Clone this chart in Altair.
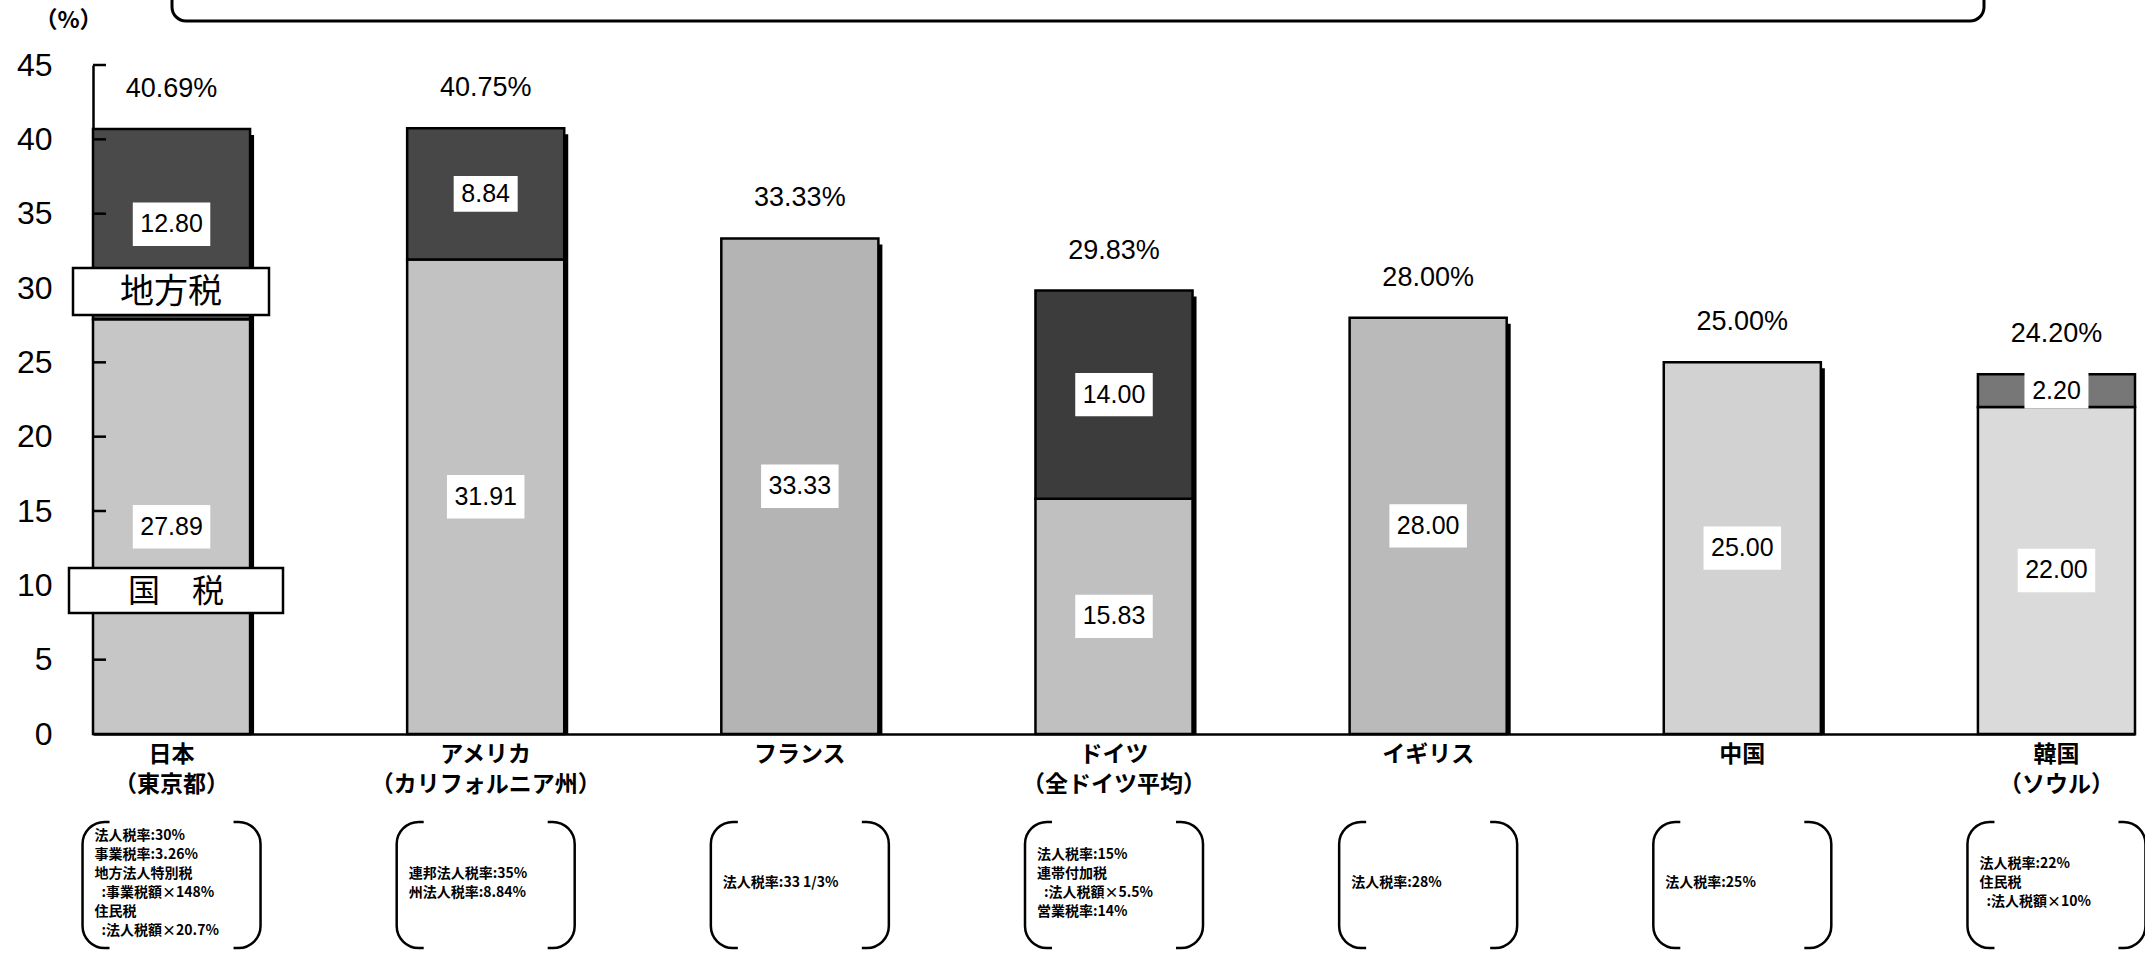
import altair as alt
import pandas as pd

# Effective corporate tax rates (%) split into national and local portions
countries = ["日本", "アメリカ", "フランス", "ドイツ", "イギリス", "中国", "韓国"]
regions = ["（東京都）", "（カリフォルニア州）", "", "（全ドイツ平均）", "", "", "（ソウル）"]
national_tax = [27.89, 31.91, 33.33, 15.83, 28.00, 25.00, 22.00]
local_tax = [12.80, 8.84, 0.0, 14.00, 0.0, 0.0, 2.20]
total_rate = [40.69, 40.75, 33.33, 29.83, 28.00, 25.00, 24.20]
# zero-width char keeps the small indent of continuation lines from being trimmed
IND = "\u200b\u2002"
notes = [
    f"法人税率:30%\n事業税率:3.26%\n地方法人特別税\n{IND}:事業税額×148%\n住民税\n{IND}:法人税額×20.7%",
    "連邦法人税率:35%\n州法人税率:8.84%",
    "法人税率:33 1/3%",
    f"法人税率:15%\n連帯付加税\n{IND}:法人税額×5.5%\n営業税率:14%",
    "法人税率:28%",
    "法人税率:25%",
    f"法人税率:22%\n住民税\n{IND}:法人税額×10%",
]
y_ticks = [0, 5, 10, 15, 20, 25, 30, 35, 40, 45]

# grey tone of each bar segment (national / local)
national_grey = ["#c6c6c6", "#c2c2c2", "#b4b4b4", "#c0c0c0", "#bababa", "#d2d2d2", "#dadada"]
local_grey = ["#4a4a4a", "#474747", "#4a4a4a", "#3c3c3c", "#4a4a4a", "#4a4a4a", "#777777"]

NUM_FONT = "Liberation Sans"
JP_FONT = "Noto Sans CJK JP"

cats = [c + ("\n" + r if r else "") for c, r in zip(countries, regions)]

rows = []
for cat, name, nat, loc in zip(cats, countries, national_tax, local_tax):
    rows.append({"cat": cat, "key": name + "|国税", "lo": 0.0, "hi": nat,
                 "label": f"{nat:.2f}"})
    if loc > 0:
        rows.append({"cat": cat, "key": name + "|地方税", "lo": nat, "hi": nat + loc,
                     "label": f"{loc:.2f}"})
seg = pd.DataFrame(rows)
seg["mid"] = (seg["lo"] + seg["hi"]) / 2

shade_domain = [n + "|国税" for n in countries] + [n + "|地方税" for n in countries]
shade_range = national_grey + local_grey

bars_df = pd.DataFrame({"cat": cats, "total": total_rate, "note": notes,
                        "total_label": [f"{t:.2f}%" for t in total_rate]})
ticks_df = pd.DataFrame({"t": y_ticks[1:]})

x_enc = alt.X(
    "cat:N", sort=cats,
    scale=alt.Scale(paddingInner=0.5, paddingOuter=0),
    axis=alt.Axis(
        title=None, labelExpr="split(datum.label, '\\n')", labelFont=JP_FONT,
        labelFontSize=23, labelFontWeight="bold", labelColor="black",
        labelLineHeight=30, labelPadding=9,
        labelAngle=0, labelLimit=400, ticks=False, tickSize=0,
        domainColor="black", domainWidth=2.5,
    ),
)
y_scale = alt.Scale(domain=[0, 45], nice=False)
y_axis = alt.Axis(
    values=y_ticks, ticks=False, tickSize=0, labelPadding=41, labelFont=NUM_FONT,
    labelFontSize=32, labelColor="black", domainColor="black", domainWidth=2.5,
    grid=False, title="（%）", titleAngle=0, titleX=-25, titleY=-45,
    titleAlign="center", titleBaseline="middle", titleFont=JP_FONT,
    titleFontSize=23, titleFontWeight="bold", titleColor="black",
)

# drop shadow on the right of each bar
shadow = alt.Chart(bars_df).mark_bar(color="black", xOffset=4, yOffset=6, clip=True).encode(
    x=x_enc, y=alt.Y("total:Q", scale=y_scale, axis=y_axis), y2=alt.datum(0)
)

segments = alt.Chart(seg).mark_bar(stroke="black", strokeWidth=2.5).encode(
    x=x_enc,
    y=alt.Y("hi:Q", scale=y_scale),
    y2="lo:Q",
    color=alt.Color("key:N", scale=alt.Scale(domain=shade_domain, range=shade_range),
                    legend=None),
)

# inward tick marks on the value axis
inner_ticks = alt.Chart(ticks_df).mark_rule(color="black", strokeWidth=2.5).encode(
    y=alt.Y("t:Q", scale=y_scale), x=alt.value(0), x2=alt.value(13)
)

totals = alt.Chart(bars_df).mark_text(
    dy=-40, font=NUM_FONT, fontSize=27, color="black"
).encode(x=x_enc, y=alt.Y("total:Q", scale=y_scale), text="total_label:N")

label_boxes = alt.Chart(seg).transform_calculate(
    bw="pow(13.5 * length(datum.label) + 10, 2)"
).mark_point(
    shape="M-1,-0.56H1V0.56H-1Z", filled=True, color="white", opacity=1
).encode(x=x_enc, y=alt.Y("mid:Q", scale=y_scale), size=alt.Size("bw:Q", scale=None))

label_text = alt.Chart(seg).mark_text(
    font=NUM_FONT, fontSize=25, color="black"
).encode(x=x_enc, y=alt.Y("mid:Q", scale=y_scale), text="label:N")

one = pd.DataFrame({"k": [0]})


def key_box(x0, x1, y0, y1, text, size):
    box = alt.Chart(one).mark_rect(fill="white", stroke="black", strokeWidth=2.5).encode(
        x=alt.value(x0), x2=alt.value(x1), y=alt.value(y0), y2=alt.value(y1)
    )
    txt = alt.Chart(one).mark_text(
        text=text, font=JP_FONT, fontSize=size, color="black"
    ).encode(x=alt.value((x0 + x1) / 2), y=alt.value((y0 + y1) / 2 + 1))
    return box + txt


local_key = key_box(-20, 176, 203, 250, "地方税", 34)
national_key = key_box(-24, 190, 503, 548, "国　税", 32)

# bracketed notes under each country
brackets = alt.Chart(bars_df).mark_bar(
    width=178, cornerRadius=22, fill="white", stroke="black", strokeWidth=2.5
).encode(x=x_enc, y=alt.value(757), y2=alt.value(883))
cover_top = alt.Chart(bars_df).mark_bar(width=124, color="white").encode(
    x=x_enc, y=alt.value(750), y2=alt.value(764)
)
cover_bottom = alt.Chart(bars_df).mark_bar(width=124, color="white").encode(
    x=x_enc, y=alt.value(876), y2=alt.value(890)
)
# each note block is centred vertically inside its bracket
note_text = alt.Chart(bars_df).transform_calculate(
    ny="818 - (length(split(datum.note, '\\n')) - 1) * 9.5"
).mark_text(
    align="left", baseline="middle", dx=-77, lineBreak="\n", lineHeight=19,
    font=JP_FONT, fontSize=14, fontWeight="bold", color="black"
).encode(x=x_enc, y=alt.Y("ny:Q", scale=None), text="note:N")

# frame running along the top edge
top_frame = alt.Chart(one).mark_rect(
    fillOpacity=0, stroke="black", strokeWidth=3, cornerRadius=14
).encode(x=alt.value(79), x2=alt.value(1891), y=alt.value(-120), y2=alt.value(-44))

chart = alt.layer(
    shadow, segments, inner_ticks, totals, label_boxes, label_text,
    local_key, national_key, brackets, cover_top, cover_bottom, note_text, top_frame,
).properties(
    width=2042, height=669,
    autosize=alt.AutoSizeParams(type="none"),
    padding={"left": 93, "top": 65, "right": 10, "bottom": 219},
    background="white",
).configure_view(stroke=None)

chart.save("out.html", embed_options={"renderer": "svg", "actions": False})
